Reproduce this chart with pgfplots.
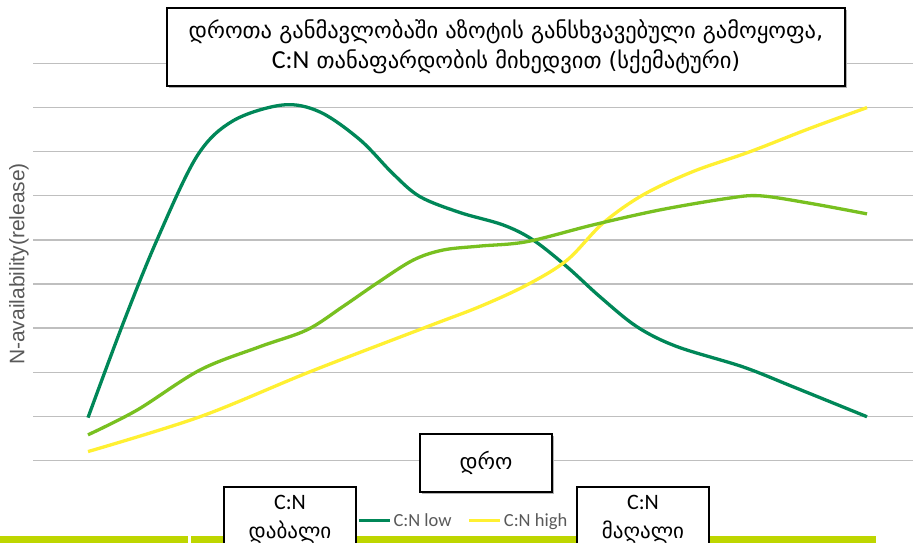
\documentclass[border=0pt]{standalone}
\usepackage{pgfplots}
\pgfplotsset{compat=1.18}
\usepackage{fontspec}
\setmainfont{Carlito}
\newfontfamily\geo{DejaVu Sans}
\newfontfamily\arial{Liberation Sans}
\definecolor{dkgreen}{RGB}{0,135,88}
\definecolor{ltgreen}{RGB}{120,192,32}
\definecolor{yel}{RGB}{255,240,50}
\definecolor{lime}{RGB}{190,214,0}
\definecolor{grid}{RGB}{226,226,226}
\definecolor{txtgray}{RGB}{89,89,89}
\begin{document}
\begin{tikzpicture}
\useasboundingbox (0,0) rectangle (913pt,543pt);
% lime bar
\fill[lime] (0pt,0pt) rectangle (188pt,7pt);
\fill[lime] (191pt,0pt) rectangle (876pt,7pt);
\begin{axis}[
  at={(33pt,82.6pt)}, anchor=south west,
  scale only axis, width=880pt, height=396.9pt,
  xmin=33, xmax=913, ymin=0, ymax=9,
  axis line style={draw=none},
  ytick={0,1,...,9}, xtick=\empty,
  yticklabels={}, major tick length=0pt,
  ymajorgrids, grid style={grid, line width=1.3pt},
  clip=false,
  legend style={at={(axis cs:357,-1.36)}, anchor=west, draw=none, fill=none,
    legend columns=2, font=\fontsize{18.5}{20}\selectfont\color{txtgray},
    /tikz/every even column/.append style={column sep=14pt},
    inner sep=0pt},
  legend image code/.code={\draw[#1] (0pt,0pt) -- (31pt,0pt);},
  legend cell align=left,
]
\addplot[dkgreen, line width=3.3pt, smooth, tension=0.55] coordinates {
(88,0.97)(123,3.1)(157,5.0)(197,6.9)(233,7.7)(283,8.06)(320,7.9)(360,7.27)(393,6.5)(420,5.98)(460,5.62)(503,5.34)(533,5.0)(567,4.39)(600,3.71)(637,3.03)(677,2.58)(743,2.12)(793,1.67)(867,0.99)};
\addlegendentry{C:N low}
\addplot[yel, line width=3.3pt, smooth, tension=0.55] coordinates {
(88,0.2)(200,0.99)(310,2.01)(427,3.03)(480,3.49)(527,3.98)(567,4.54)(603,5.38)(643,6.02)(693,6.55)(750,7.0)(810,7.53)(867,8.0)};
\addlegendentry{C:N high}
\addplot[ltgreen, line width=3.3pt, smooth, tension=0.55, forget plot] coordinates {
(88,0.58)(137,1.14)(200,2.05)(260,2.58)(307,2.96)(343,3.49)(377,4.02)(413,4.54)(443,4.77)(480,4.86)(527,4.96)(593,5.34)(660,5.68)(727,5.94)(760,6.0)(810,5.83)(867,5.59)};
\end{axis}
% y label
\node[rotate=90, text=txtgray, font=\arial\fontsize{21}{23}\selectfont] at (19pt,279pt) {N-availability(release)};
% title box
\fill[gray!60] (169pt,455pt) rectangle (847pt,533pt);
\draw[line width=2pt, fill=white] (167pt,457pt) rectangle (845pt,535pt);
\node[align=center, font=\geo\fontsize{22.5}{30}\selectfont] at (506pt,496pt)
  {დროთა განმავლობაში აზოტის განსხვავებული გამოყოფა,\\{\rmfamily\fontsize{26}{30}\selectfont C:N} თანაფარდობის მიხედვით (სქემატური)};
% time box
\fill[gray!60] (422pt,49pt) rectangle (554pt,107pt);
\draw[line width=2pt, fill=white] (420pt,51pt) rectangle (552pt,109pt);
\node[font=\geo\fontsize{22}{24}\selectfont] at (486pt,80pt) {დრო};
% C:N low box
\draw[line width=2pt, fill=white] (224pt,-5pt) rectangle (356pt,56pt);
\node[font=\fontsize{22}{24}\selectfont] at (290pt,41pt) {C:N};
\node[font=\geo\fontsize{21}{24}\selectfont] at (290pt,11pt) {დაბალი};
% C:N high box
\draw[line width=2pt, fill=white] (577pt,-5pt) rectangle (709pt,56pt);
\node[font=\fontsize{22}{24}\selectfont] at (643pt,41pt) {C:N};
\node[font=\geo\fontsize{21}{24}\selectfont] at (643pt,11pt) {მაღალი};
\end{tikzpicture}
\end{document}
